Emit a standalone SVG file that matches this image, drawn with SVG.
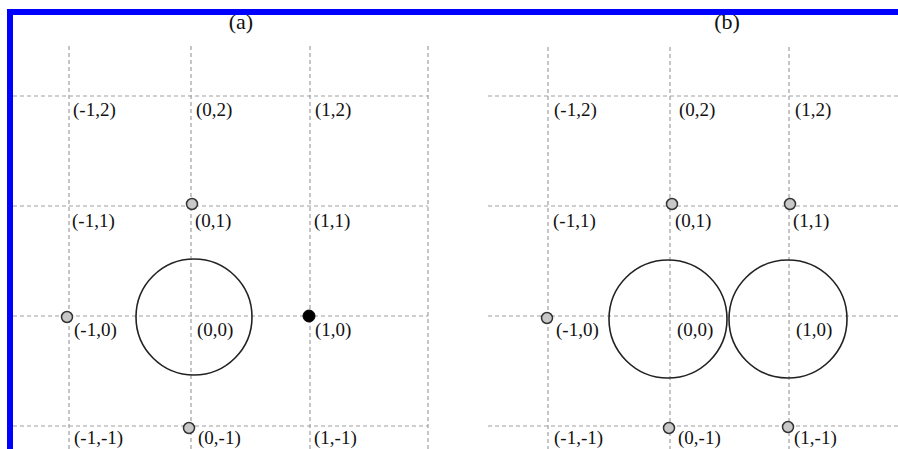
<svg xmlns="http://www.w3.org/2000/svg" width="898" height="449" viewBox="0 0 898 449">
<style>
.g{stroke:#a0a0a0;stroke-width:1.2;stroke-dasharray:4,3;fill:none}
.big{fill:none;stroke:#222;stroke-width:1.6}
.pt{fill:#c8c8c8;stroke:#333;stroke-width:1.5}
.bk{fill:#000;stroke:#000;stroke-width:1}
text{font-family:"Liberation Serif","Times New Roman",serif;font-size:19px;fill:#111}
.t{font-size:22px;text-anchor:middle}
</style>
<rect width="898" height="449" fill="#fff"/>
<g id="connectors">
<g id="grid-a">
<line class="g" x1="69" y1="46" x2="69" y2="449"/>
<line class="g" x1="191" y1="46" x2="191" y2="449"/>
<line class="g" x1="310" y1="46" x2="310" y2="449"/>
<line class="g" x1="428" y1="46" x2="428" y2="449"/>
<line class="g" x1="13" y1="96" x2="428" y2="96"/>
<line class="g" x1="13" y1="206" x2="428" y2="206"/>
<line class="g" x1="13" y1="316" x2="428" y2="316"/>
<line class="g" x1="13" y1="426" x2="428" y2="426"/>
</g>
<g id="grid-b">
<line class="g" x1="548" y1="47" x2="548" y2="449"/>
<line class="g" x1="670" y1="47" x2="670" y2="449"/>
<line class="g" x1="789" y1="47" x2="789" y2="449"/>
<line class="g" x1="488" y1="96" x2="898" y2="96"/>
<line class="g" x1="488" y1="206" x2="898" y2="206"/>
<line class="g" x1="488" y1="316" x2="898" y2="316"/>
<line class="g" x1="488" y1="426" x2="898" y2="426"/>
</g>
</g>
<g id="panel-a">
<text class="t" x="241" y="29">(a)</text>
<circle id="a-disk" class="big" cx="194" cy="317" r="58"/>
<g id="a-p01"><circle class="pt" cx="192" cy="204" r="5.5"/></g>
<g id="a-pm10"><circle class="pt" cx="67" cy="317" r="5.5"/></g>
<g id="a-p0m1"><circle class="pt" cx="189" cy="428" r="5.5"/></g>
<g id="a-p10"><circle class="bk" cx="309" cy="316" r="6"/></g>
<text x="73" y="116">(-1,2)</text>
<text x="196" y="116">(0,2)</text>
<text x="315" y="116">(1,2)</text>
<text x="72" y="227">(-1,1)</text>
<text x="195" y="227">(0,1)</text>
<text x="314" y="227">(1,1)</text>
<text x="74" y="336">(-1,0)</text>
<text x="197" y="336">(0,0)</text>
<text x="315" y="336">(1,0)</text>
<text x="74" y="444">(-1,-1)</text>
<text x="198" y="444">(0,-1)</text>
<text x="314" y="444">(1,-1)</text>
</g>
<g id="panel-b">
<text class="t" x="727" y="29">(b)</text>
<circle id="b-disk0" class="big" cx="668" cy="319" r="59"/>
<circle id="b-disk1" class="big" cx="788" cy="319" r="59"/>
<g id="b-p01"><circle class="pt" cx="672" cy="204" r="5.5"/></g>
<g id="b-p11"><circle class="pt" cx="790" cy="204" r="5.5"/></g>
<g id="b-pm10"><circle class="pt" cx="547" cy="318" r="5.5"/></g>
<g id="b-p0m1"><circle class="pt" cx="669" cy="428" r="5.5"/></g>
<g id="b-p1m1"><circle class="pt" cx="788" cy="427" r="5.5"/></g>
<text x="554" y="116">(-1,2)</text>
<text x="679" y="116">(0,2)</text>
<text x="795" y="116">(1,2)</text>
<text x="553" y="227">(-1,1)</text>
<text x="675" y="227">(0,1)</text>
<text x="793" y="227">(1,1)</text>
<text x="556" y="336">(-1,0)</text>
<text x="677" y="336">(0,0)</text>
<text x="796" y="336">(1,0)</text>
<text x="554" y="444">(-1,-1)</text>
<text x="678" y="444">(0,-1)</text>
<text x="794" y="444">(1,-1)</text>
</g>
<g id="border">
<rect x="7" y="9" width="891" height="6" fill="#0000ff"/>
<rect x="7" y="9" width="6" height="440" fill="#0000ff"/>
</g>
</svg>
